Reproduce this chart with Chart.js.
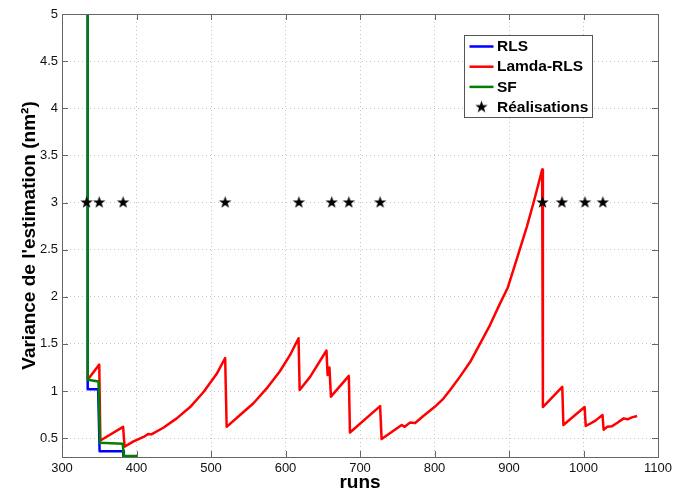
<!DOCTYPE html>
<html>
<head>
<meta charset="utf-8">
<script src="https://cdn.jsdelivr.net/npm/chart.js@4.4.1/dist/chart.umd.min.js"></script>
<style>
    html, body { margin: 0; padding: 0; background: #fff; }
</style>
</head>
<body>
<canvas id="varChart" width="673" height="496"></canvas>
<script>
// axis ticks
const xTicks = [300, 400, 500, 600, 700, 800, 900, 1000, 1100];
const yTicks = [0.5, 1, 1.5, 2, 2.5, 3, 3.5, 4, 4.5, 5];

// RLS
const rlsRuns = [334.5, 334.5, 348.5, 350.5, 382, 383];
const rlsValues = [5.2, 1.02, 1.02, 0.36, 0.36, 0.25];

// Lamda-RLS
const lamRuns = [334.5, 350, 351.5, 382, 384, 396, 411, 416, 420, 436, 454, 472, 490, 507.5, 519,
    521, 539, 557, 575, 592.5, 606, 617.5, 619, 633, 655, 656.5, 659, 661, 685, 686.5, 727, 729,
    756, 760, 767, 774, 785, 800, 812, 821, 834, 848, 861, 874.5, 888, 898, 910, 924, 933, 939, 944.5,
    945.5, 971.5, 973, 1001.5, 1003, 1007, 1016, 1025.5, 1027, 1032, 1038, 1045, 1054, 1059, 1065, 1072];
const lamValues = [1.12, 1.28, 0.475, 0.62, 0.41, 0.465, 0.52, 0.545, 0.54, 0.61, 0.71, 0.83, 0.99, 1.18, 1.35,
    0.62, 0.745, 0.87, 1.03, 1.21, 1.38, 1.56, 1.01, 1.15, 1.43, 1.17, 1.25, 0.94, 1.16, 0.56, 0.84, 0.49,
    0.64, 0.62, 0.665, 0.66, 0.735, 0.83, 0.92, 1.01, 1.15, 1.31, 1.50, 1.70, 1.93, 2.09, 2.39, 2.745, 3.0, 3.18, 3.35,
    0.83, 1.045, 0.64, 0.83, 0.63, 0.645, 0.686, 0.746, 0.59, 0.62, 0.625, 0.66, 0.71, 0.70, 0.72, 0.735];

// SF
const sfRuns = [334.5, 334.5, 349, 351, 381.5, 383, 402];
const sfValues = [5.2, 1.12, 1.10, 0.45, 0.44, 0.31, 0.31];

// Réalisations
const starRuns = [333, 350, 382, 519, 618, 662, 685, 727, 945, 971, 1002, 1026];
const starValues = [3, 3, 3, 3, 3, 3, 3, 3, 3, 3, 3, 3];

const FONT = '"Liberation Sans", Arial, Helvetica, sans-serif';

function toPoints(runs, values) {
    return runs.map((r, i) => ({ x: r, y: values[i] }));
}

// filled black star used as point style
function makeStar(r) {
    const size = Math.ceil(r * 2) + 2;
    const c = document.createElement("canvas");
    c.width = size;
    c.height = size;
    const g = c.getContext("2d");
    g.translate(size / 2, size / 2);
    g.beginPath();
    for (let i = 0; i < 10; i++) {
        const rad = i % 2 === 0 ? r : r * 0.4;
        const a = -Math.PI / 2 + i * Math.PI / 5;
        if (i === 0) g.moveTo(rad * Math.cos(a), rad * Math.sin(a));
        else g.lineTo(rad * Math.cos(a), rad * Math.sin(a));
    }
    g.closePath();
    g.fillStyle = "#000";
    g.fill();
    return c;
}
const star = makeStar(6.5);

// box round the plot with inner tick marks
const frame = {
    id: "frame",
    afterDatasetsDraw(chart) {
        const { ctx, chartArea: a, scales: { x, y } } = chart;
        ctx.save();
        ctx.strokeStyle = "#666";
        ctx.lineWidth = 1;
        ctx.beginPath();
        x.ticks.forEach(t => {
            const px = Math.round(x.getPixelForValue(t.value)) + 0.5;
            ctx.moveTo(px, a.bottom); ctx.lineTo(px, a.bottom - 6);
            ctx.moveTo(px, a.top); ctx.lineTo(px, a.top + 6);
        });
        y.ticks.forEach(t => {
            const py = Math.round(y.getPixelForValue(t.value)) + 0.5;
            ctx.moveTo(a.left, py); ctx.lineTo(a.left + 6, py);
            ctx.moveTo(a.right, py); ctx.lineTo(a.right - 6, py);
        });
        ctx.stroke();
        ctx.strokeRect(a.left + 0.5, a.top + 0.5, a.right - a.left, a.bottom - a.top);
        ctx.restore();
    }
};

// legend box inside the plot, top right
const boxLegend = {
    id: "boxLegend",
    afterDraw(chart) {
        const { ctx, chartArea: a } = chart;
        const left = a.right - 193.5, top = a.top + 21.5, w = 128, h = 82;
        ctx.save();
        ctx.fillStyle = "#fff";
        ctx.fillRect(left, top, w, h);
        ctx.strokeStyle = "#555";
        ctx.lineWidth = 1;
        ctx.strokeRect(left, top, w, h);
        ctx.font = "bold 15.5px " + FONT;
        ctx.textBaseline = "middle";
        ctx.fillStyle = "#000";
        chart.data.datasets.forEach((ds, i) => {
            const cy = top + 11 + i * 20.2;
            if (ds.showLine === false) {
                ctx.drawImage(star, left + 17 - star.width / 2, cy - star.height / 2);
            } else {
                ctx.strokeStyle = ds.borderColor;
                ctx.lineWidth = 2.5;
                ctx.beginPath();
                ctx.moveTo(left + 5, cy);
                ctx.lineTo(left + 29, cy);
                ctx.stroke();
            }
            ctx.fillText(ds.label, left + 32.5, cy + 0.5);
        });
        ctx.restore();
    }
};

const tickFont = { family: FONT, size: 13 };
const titleFont = { family: FONT, size: 19, weight: "bold" };
const gridOpts = { color: "#c4c4c4", lineWidth: 1, drawTicks: false };

new Chart(document.getElementById("varChart"), {
    type: "line",
    data: {
        datasets: [
            {
                label: "RLS",
                data: toPoints(rlsRuns, rlsValues),
                borderColor: "#0000ff",
                borderWidth: 2.5,
                borderJoinStyle: "round",
                pointRadius: 0,
                order: 4
            },
            {
                label: "Lamda-RLS",
                data: toPoints(lamRuns, lamValues),
                borderColor: "#ff0000",
                borderWidth: 2.5,
                borderJoinStyle: "round",
                pointRadius: 0,
                order: 3
            },
            {
                label: "SF",
                data: toPoints(sfRuns, sfValues),
                borderColor: "#008000",
                borderWidth: 2.5,
                borderJoinStyle: "round",
                pointRadius: 0,
                order: 2
            },
            {
                label: "Réalisations",
                data: toPoints(starRuns, starValues),
                showLine: false,
                pointStyle: star,
                pointRadius: 6,
                borderColor: "#000",
                backgroundColor: "#000",
                order: 1
            }
        ]
    },
    options: {
        responsive: false,
        animation: false,
        layout: { padding: { top: 14, right: 15, left: 0, bottom: 0 } },
        plugins: {
            legend: { display: false },
            tooltip: { enabled: false }
        },
        scales: {
            x: {
                type: "linear",
                min: 300,
                max: 1100,
                afterBuildTicks: s => { s.ticks = xTicks.map(v => ({ value: v })); },
                afterFit: s => { s.height = 39; s.paddingLeft = 0; s.paddingRight = 0; },
                ticks: {
                    font: tickFont,
                    color: "#111",
                    padding: 4,
                    maxRotation: 0,
                    autoSkip: false,
                    callback: v => String(v)
                },
                grid: gridOpts,
                border: { display: false, dash: [1, 3] },
                title: {
                    display: true,
                    text: "runs",
                    font: titleFont,
                    color: "#000",
                    padding: { top: 0, bottom: 2 }
                }
            },
            y: {
                min: 0.3,
                max: 5,
                afterBuildTicks: s => { s.ticks = yTicks.map(v => ({ value: v })); },
                afterFit: s => { s.width = 62; s.paddingTop = 0; s.paddingBottom = 0; },
                ticks: {
                    font: tickFont,
                    color: "#111",
                    padding: 4,
                    callback: v => String(v)
                },
                grid: gridOpts,
                border: { display: false, dash: [1, 3] },
                title: {
                    display: true,
                    text: "Variance de l'estimation (nm²)",
                    font: titleFont,
                    color: "#000",
                    padding: { top: 18, bottom: 0 }
                }
            }
        }
    },
    plugins: [frame, boxLegend]
});
</script>
</body>
</html>
